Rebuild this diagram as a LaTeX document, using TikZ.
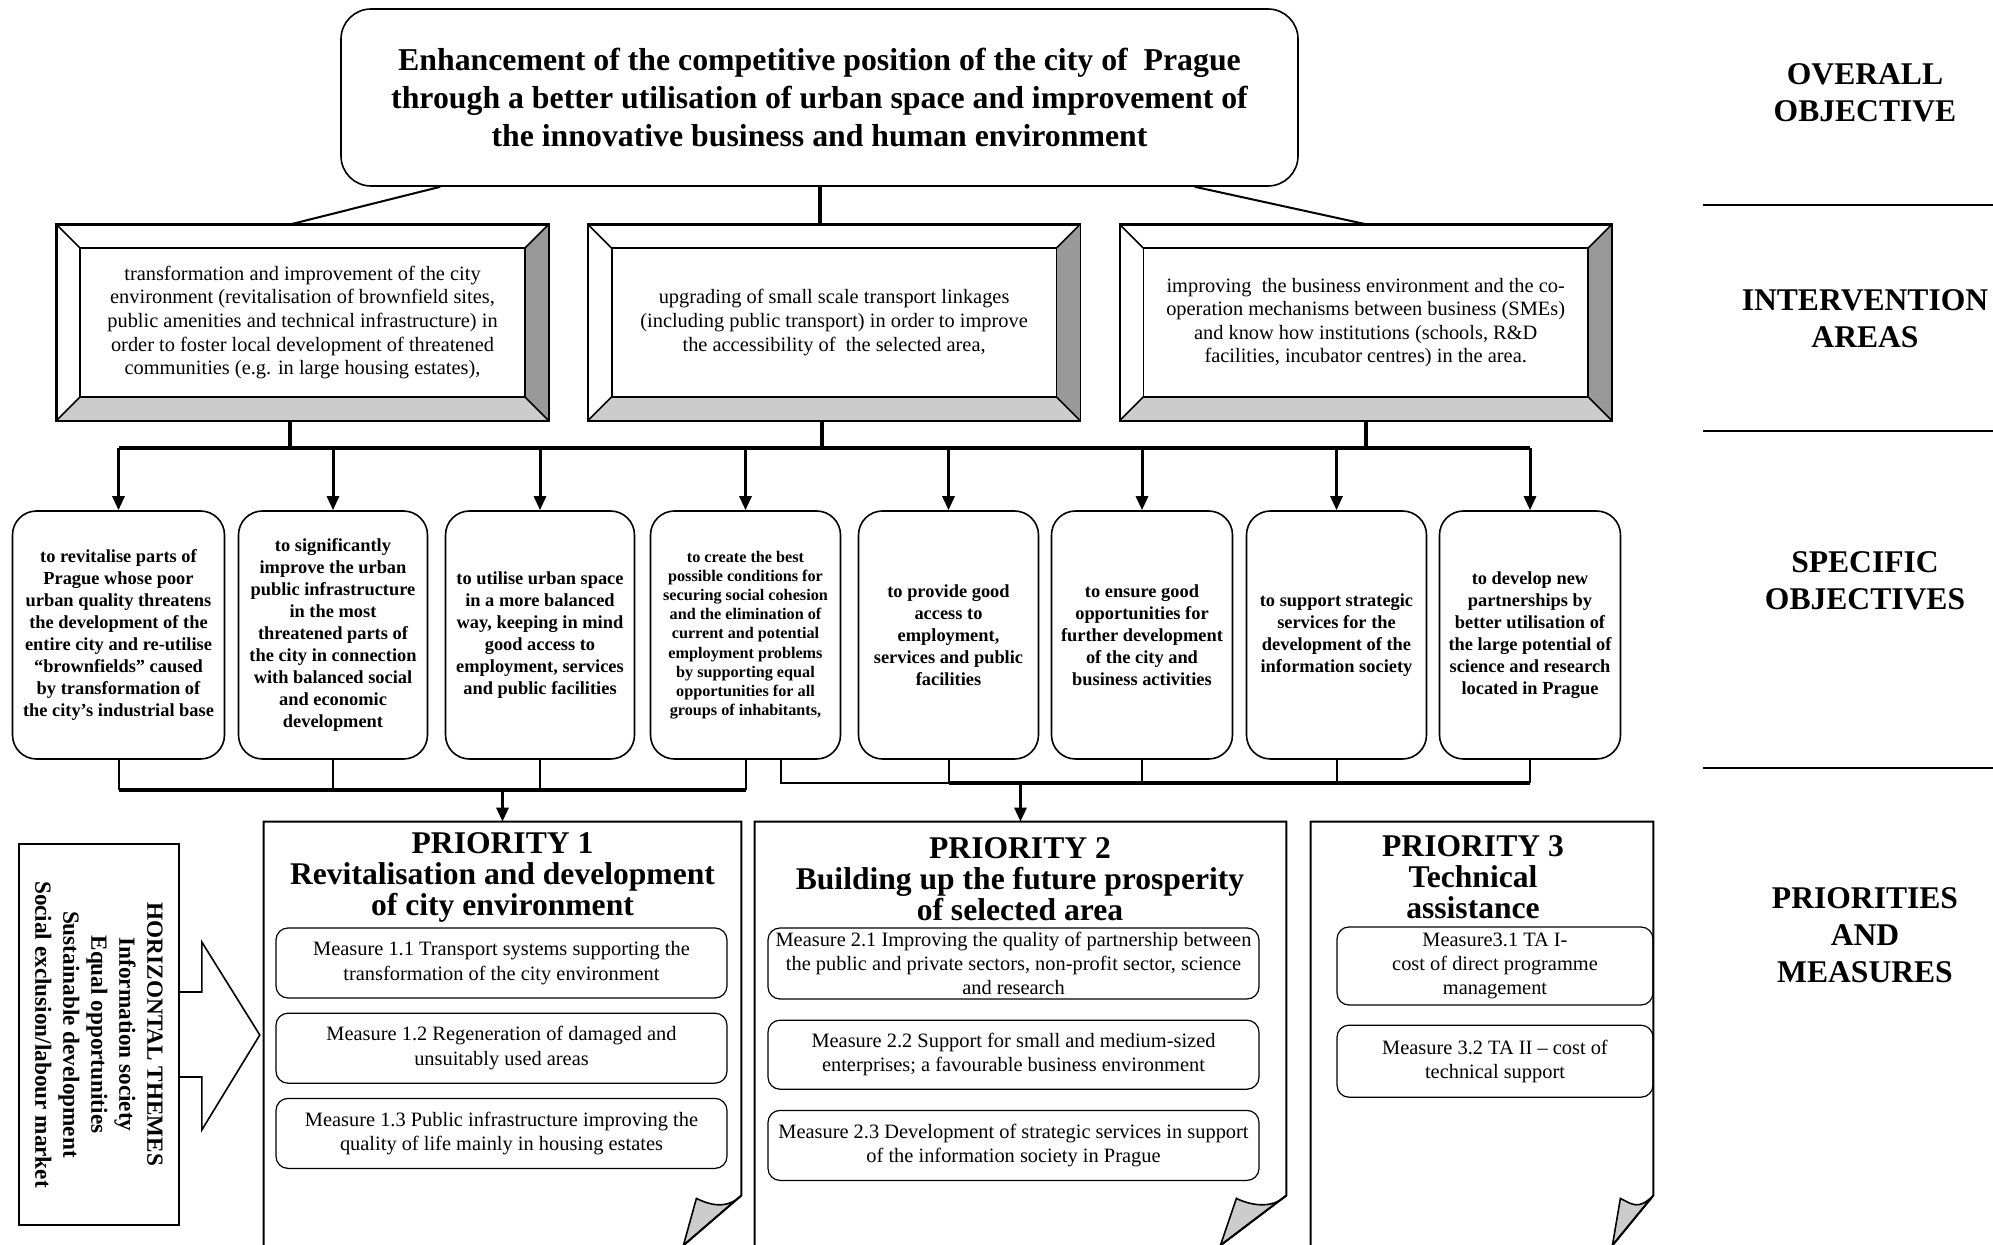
\documentclass[tikz,border=0pt]{standalone}
\usepackage{fontspec}
\setmainfont{Liberation Serif}
\usetikzlibrary{arrows.meta, positioning, calc}
\tikzstyle{goalbox} = [rectangle, rounded corners=15pt, draw, line width=0.8pt, minimum width=478.5pt, minimum height=88.5pt, align=center, font=\fontsize{15.9}{19}\selectfont\bfseries]
\tikzstyle{area} = [rectangle, draw, line width=0.8pt, minimum width=245.5pt, minimum height=97.5pt, inner sep=0pt, align=center, font=\fontsize{10.2}{11.8}\selectfont]
\tikzstyle{objective} = [rectangle, rounded corners=12pt, draw, line width=0.8pt, minimum height=124pt, align=center, inner sep=2pt, font=\fontsize{9.2}{11}\selectfont\bfseries]
\tikzstyle{measure} = [rectangle, rounded corners=6pt, draw, line width=0.6pt, align=center, inner xsep=1pt, inner ysep=0pt, font=\fontsize{10.2}{12.2}\selectfont]
\tikzstyle{prio} = [rectangle, minimum height=211.5pt, inner sep=0pt]
\tikzstyle{priotitle} = [align=center, font=\fontsize{15.8}{15.5}\selectfont\bfseries]
\tikzstyle{rowlabel} = [align=center, font=\fontsize{15.8}{18.5}\selectfont\bfseries]
\tikzstyle{bus} = [line width=2pt]
\tikzstyle{link} = [line width=1pt]
\tikzstyle{arrow} = [line width=1.5pt, -{Triangle[length=7pt, width=6pt]}]

\begin{document}
\begin{tikzpicture}[x=0.5pt, y=-0.5pt, node distance=7pt]
\useasboundingbox (0,0) rectangle (1993,1245);

% overall objective
\node[goalbox] (goal) at (819.5,97.5) {Enhancement of the competitive position of the city of~ Prague\\through a better utilisation of urban space and improvement of\\the innovative business and human environment};

% intervention areas
\node[area] (area1) at (302.5,322.5) {transformation and improvement of the city\\environment (revitalisation of brownfield sites,\\public amenities and technical infrastructure) in\\order to foster local development of threatened\\communities (e.g. in large housing estates),};
\node[area, right=19.5pt of area1] (area2) {upgrading of small scale transport linkages\\(including public transport) in order to improve\\the accessibility of~ the selected area,};
\node[area, right=19.5pt of area2] (area3) {improving~ the business environment and the co-\\operation mechanisms between business (SMEs)\\and know how institutions (schools, R\&D\\facilities, incubator centres) in the area.};
\foreach \n in {area1,area2,area3} {
  \fill[gray!80] (\n.north east) -- (\n.south east) -- ($(\n.south east)+(-24,-24)$) -- ($(\n.north east)+(-24,24)$) -- cycle;
  \fill[gray!40] (\n.south west) -- (\n.south east) -- ($(\n.south east)+(-24,-24)$) -- ($(\n.south west)+(24,-24)$) -- cycle;
  \draw[line width=0.8pt] (\n.north west) rectangle (\n.south east);
  \draw[line width=0.8pt] ($(\n.north west)+(24,24)$) rectangle ($(\n.south east)+(-24,-24)$);
  \draw[line width=0.8pt] (\n.north west) -- ++(24,24) (\n.north east) -- ++(-24,24)
    (\n.south west) -- ++(24,-24) (\n.south east) -- ++(-24,-24);
}

% specific objectives
\node[objective, minimum width=106pt] (so1) at (118.5,635) {to revitalise parts of\\Prague whose poor\\urban quality threatens\\the development of the\\entire city and re-utilise\\“brownfields” caused\\by transformation of\\the city’s industrial base};
\node[objective, minimum width=94.5pt] (so2) at (333,635) {to significantly\\improve the urban\\public infrastructure\\in the most\\threatened parts of\\the city in connection\\with balanced social\\and economic\\development};
\node[objective, minimum width=94.5pt] (so3) at (540,635) {to utilise urban space\\in a more balanced\\way, keeping in mind\\good access to\\employment, services\\and public facilities};
\node[objective, minimum width=95pt, font=\fontsize{8.1}{9.6}\selectfont\bfseries] (so4) at (745.5,635) {to create the best\\possible conditions for\\securing social cohesion\\and the elimination of\\current and potential\\employment problems\\by supporting equal\\opportunities for all\\groups of inhabitants,};
\node[objective, minimum width=90pt] (so5) at (948.5,635) {to provide good\\access to\\employment,\\services and public\\facilities};
\node[objective, minimum width=90.5pt] (so6) at (1142,635) {to ensure good\\opportunities for\\further development\\of the city and\\business activities};
\node[objective, minimum width=90pt] (so7) at (1336.5,635) {to support strategic\\services for the\\development of the\\information society};
\node[objective, minimum width=90.5pt] (so8) at (1530,635) {to develop new\\partnerships by\\better utilisation of\\the large potential of\\science and research\\located in Prague};

% priorities
\node[prio, minimum width=238.5pt] (prio1) at (502.5,1033.5) {};
\node[prio, minimum width=265.5pt] (prio2) at (1020.5,1033.5) {};
\node[prio, minimum width=171pt] (prio3) at (1482,1033.5) {};
\foreach \p/\a/\b in {prio1/45/58, prio2/50/66, prio3/33/41} {
  \filldraw[fill=gray!40, line width=0.8pt] ($(\p.south east)+(0,-50)$) .. controls +(-15,15) and +(12,6) .. ($(\p.south east)+(-\a,-47)$) -- ($(\p.south east)+(-\b,0)$) -- cycle;
  \draw[line width=1pt] (\p.south west) -- (\p.north west) -- (\p.north east) -- ($(\p.south east)+(0,-50)$) -- ($(\p.south east)+(-\b,0)$);
}
\node[priotitle] (p1title) at (502.5,877) {PRIORITY 1\\Revitalisation and development\\of city environment};
\node[priotitle] (p2title) at (1020,879) {PRIORITY 2\\Building up the future prosperity\\of selected area};
\node[priotitle] (p3title) at (1473,877) {PRIORITY 3\\Technical\\assistance};

% measures
\node[measure, minimum width=225.5pt, minimum height=35pt] (m11) at (501.5,963) {Measure 1.1 Transport systems supporting the\\transformation of the city environment};
\node[measure, minimum width=225.5pt, minimum height=35pt, below=of m11] (m12) {Measure 1.2 Regeneration of damaged and\\unsuitably used areas};
\node[measure, minimum width=225.5pt, minimum height=35pt, below=of m12] (m13) {Measure 1.3 Public infrastructure improving the\\quality of life mainly in housing estates};
\node[measure, minimum width=245.5pt, minimum height=35.5pt] (m21) at (1013.5,963.5) {Measure 2.1 Improving the quality of partnership between\\the public and private sectors, non-profit sector, science\\and research};
\node[measure, minimum width=245.5pt, minimum height=34.5pt, below=10pt of m21] (m22) {Measure 2.2 Support for small and medium-sized\\enterprises; a favourable business environment};
\node[measure, minimum width=245.5pt, minimum height=35pt, below=10pt of m22] (m23) {Measure 2.3 Development of strategic services in support\\of the information society in Prague};
\node[measure, minimum width=158pt, minimum height=39pt] (m31) at (1495,966) {Measure3.1 TA I-\\cost of direct programme\\management};
\node[measure, minimum width=158pt, minimum height=36pt, below=9.5pt of m31] (m32) {Measure 3.2 TA II – cost of\\technical support};

% horizontal themes
\node[draw, line width=0.8pt, minimum width=80pt, minimum height=190.5pt] (themes) at (99,1034.5) {};
\node[rotate=-90, align=center, font=\fontsize{11.6}{14}\selectfont\bfseries] (themetext) at (themes) {HORIZONTAL THEMES\\Information society\\Equal opportunities\\Sustainable development\\Social exclusion/labour market};
\draw[line width=0.8pt] ([yshift=21.25pt]themes.east) -- ++(22,0) -- ++(0,-50) -- ++(58,93) -- ++(-58,95) -- ++(0,-53) -- ++(-22,0);

% connectors
\coordinate (busa) at (0,448);
\coordinate (busb) at (0,790);
\coordinate (busc) at (0,783);
\draw[bus] (goal.south) -- (goal.south |- area2.north);
\draw[link] ([xshift=50pt]goal.south west) -- ([xshift=-5.75pt]area1.north);
\draw[link] ([xshift=-52pt]goal.south east) -- (area3.north);
\draw[bus] ([xshift=-6.25pt]area1.south) -- ([xshift=-6.25pt]area1.south |- busa);
\draw[bus] ([xshift=-6.25pt]area2.south) -- ([xshift=-6.25pt]area2.south |- busa);
\draw[bus] (area3.south) -- (area3.south |- busa);
\draw[bus] (so1.north |- busa) -- (so8.north |- busa);
\foreach \i in {1,...,8}
  \draw[arrow] (so\i.north |- busa) -- (so\i.north);
\foreach \i in {1,...,4}
  \draw[link] (so\i.south) -- (so\i.south |- busb);
\draw[bus] (so1.south |- busb) -- (so4.south |- busb);
\draw[arrow] (prio1.north |- busb) -- (prio1.north);
\draw[link] ([xshift=17.75pt]so4.south) |- (so5.south |- busc);
\foreach \i in {5,...,8}
  \draw[link] (so\i.south) -- (so\i.south |- busc);
\draw[bus] (so5.south |- busc) -- (so8.south |- busc);
\draw[arrow] (prio2.north |- busc) -- (prio2.north);

% level labels
\node[rowlabel] (lvl1) at (1865,93) {OVERALL\\OBJECTIVE};
\node[rowlabel] (lvl2) at (1865,318.5) {INTERVENTION\\AREAS};
\node[rowlabel] (lvl3) at (1865,580.5) {SPECIFIC\\OBJECTIVES};
\node[rowlabel] (lvl4) at (1865,935) {PRIORITIES\\AND\\MEASURES};
\foreach \y in {205,431,768}
  \draw[line width=1pt] (1703,\y) -- (1993,\y);
\end{tikzpicture}
\end{document}
